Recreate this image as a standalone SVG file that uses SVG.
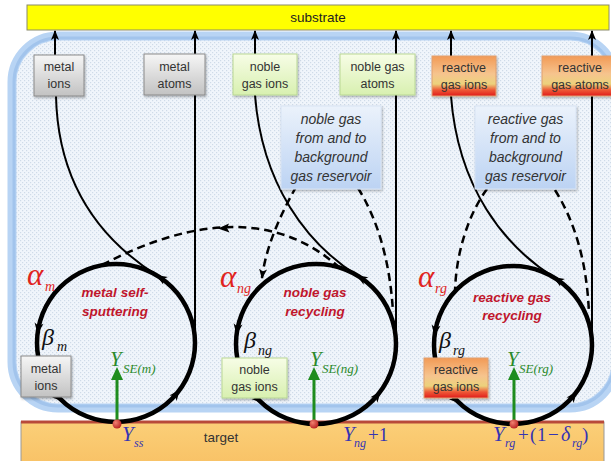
<svg xmlns="http://www.w3.org/2000/svg" width="611" height="461" viewBox="0 0 611 461">
<defs>
<style>
.box text{font-family:"Liberation Sans",Arial,sans-serif;font-size:12.5px;fill:#333;text-anchor:middle}
.res text{font-family:"Liberation Sans",Arial,sans-serif;font-size:14px;font-style:italic;fill:#333;text-anchor:middle}
.lbl{font-family:"Liberation Sans",Arial,sans-serif;font-size:13.5px;font-weight:bold;font-style:italic;fill:#c0162c;text-anchor:middle}
.gr{font-family:"Liberation Serif","Times New Roman",serif;font-style:italic}
.up{font-family:"Liberation Serif","Times New Roman",serif}
.line{fill:none;stroke:#000;stroke-width:2}
.loop{fill:none;stroke:#000;stroke-width:4.5}
.dash{fill:none;stroke:#000;stroke-width:2.5;stroke-dasharray:8 5}
.gbox{fill:url(#gGray);stroke:#8a8a8a;stroke-width:1}
.nbox{fill:url(#gGreen);stroke:#b9d794;stroke-width:1}
.obox{fill:url(#gOrange);stroke:#e0a070;stroke-width:1}
.bbox{fill:url(#gBlue);stroke:#d8e4f4;stroke-width:1}
</style>
<linearGradient id="gGray" x1="0" y1="0" x2="0" y2="1"><stop offset="0" stop-color="#f6f6f6"/><stop offset="1" stop-color="#c2c2c2"/></linearGradient>
<linearGradient id="gGreen" x1="0" y1="0" x2="0" y2="1"><stop offset="0" stop-color="#f7fde6"/><stop offset="1" stop-color="#d8f0b0"/></linearGradient>
<linearGradient id="gOrange" x1="0" y1="0" x2="0" y2="1"><stop offset="0" stop-color="#f29a56"/><stop offset="0.45" stop-color="#f6c48e"/><stop offset="0.7" stop-color="#ecd27c"/><stop offset="0.85" stop-color="#ee5836"/><stop offset="1" stop-color="#e01c1c"/></linearGradient>
<linearGradient id="gBlue" x1="0" y1="0" x2="0" y2="1"><stop offset="0" stop-color="#ebf2fb"/><stop offset="1" stop-color="#bcd3f3"/></linearGradient>
<linearGradient id="gTarget" x1="0" y1="0" x2="0" y2="1"><stop offset="0" stop-color="#fbcf78"/><stop offset="1" stop-color="#f8c266"/></linearGradient>
<radialGradient id="gDot" cx="0.35" cy="0.35" r="0.7"><stop offset="0" stop-color="#f08070"/><stop offset="1" stop-color="#b82020"/></radialGradient>
<pattern id="dots" width="4" height="4" patternUnits="userSpaceOnUse"><rect width="4" height="4" fill="#f0f5fb"/><rect x="0" y="0" width="1.2" height="1.2" fill="#cfdbe8"/><rect x="2" y="2" width="1.2" height="1.2" fill="#cfdbe8"/></pattern>
<marker id="arr" viewBox="0 0 10 10" refX="9" refY="5" markerWidth="10" markerHeight="10" markerUnits="userSpaceOnUse" orient="auto"><path d="M0,1 L10,5 L0,9 L2.5,5 Z" fill="#000"/></marker>
<path id="ah" d="M2,0 L-9,-4.5 L-6,0 L-9,4.5 Z" fill="#000"/>
<filter id="sh" x="-20%" y="-20%" width="150%" height="150%"><feDropShadow dx="1" dy="1.5" stdDeviation="1" flood-color="#000" flood-opacity="0.3"/></filter>
</defs>

<g id="background">
<rect x="12" y="36" width="604" height="372" rx="46" fill="url(#dots)" stroke="#b8d4f4" stroke-width="9"/>
<rect x="14" y="38" width="600" height="368" rx="44" fill="none" stroke="#a2c4ec" stroke-width="3"/>
</g>

<g id="substrate">
<rect x="27" y="5" width="582" height="25" fill="#ffff00" stroke="#8a8a6a" stroke-width="1"/>
<text x="318" y="22" font-family="Liberation Sans, Arial, sans-serif" font-size="13.5" fill="#222" text-anchor="middle">substrate</text>
</g>

<g id="target">
<rect x="21" y="422" width="583" height="42" fill="url(#gTarget)" stroke="#999" stroke-width="1"/>
<line x1="21" y1="422" x2="604" y2="422" stroke="#b84a3a" stroke-width="3"/>
<text x="221" y="442" font-family="Liberation Sans, Arial, sans-serif" font-size="13.5" fill="#333" text-anchor="middle">target</text>
</g>

<g id="connectors">
<line class="line" x1="55" y1="55" x2="55" y2="31" marker-end="url(#arr)"/>
<line class="line" x1="195" y1="343" x2="195" y2="31" marker-end="url(#arr)"/>
<line class="line" x1="255" y1="54" x2="255" y2="31" marker-end="url(#arr)"/>
<line class="line" x1="396" y1="344" x2="396" y2="31" marker-end="url(#arr)"/>
<line class="line" x1="451" y1="56" x2="451" y2="31" marker-end="url(#arr)"/>
<line class="line" x1="592" y1="345" x2="592" y2="31" marker-end="url(#arr)"/>
<path class="line" d="M56,96 C58,190 107,244 158,276"/>
<path class="line" d="M255,95 C262,185 307,244 358,276"/>
<path class="line" d="M451,96 C458,188 504,246 555,278"/>
<path class="dash" d="M340,268 Q250,187 100,266"/>
<path d="M218,228.5 L229,223.5 L227,228 L229.5,232.5 Z" fill="#000"/>
<path class="dash" d="M296,187 C282,212 266,245 262,278" marker-end="url(#arr)"/>
<path class="dash" d="M358,188 C378,220 390,262 393,312"/>
<path class="dash" d="M487,189 C470,212 456,250 455,292"/>
<path class="dash" d="M555,190 C575,222 587,262 589,314"/>
<circle class="loop" cx="116" cy="343" r="79"/>
<circle class="loop" cx="316" cy="344" r="80"/>
<circle class="loop" cx="513" cy="345" r="79"/>
<use href="#ah" transform="translate(37.8,332) rotate(98)"/>
<use href="#ah" transform="translate(61.6,400.3) rotate(43.5)"/>
<use href="#ah" transform="translate(178.6,391.2) rotate(-52.4)"/>
<use href="#ah" transform="translate(157.9,276) rotate(-148)"/>
<use href="#ah" transform="translate(236.8,332.9) rotate(98)"/>
<use href="#ah" transform="translate(261,402) rotate(43.5)"/>
<use href="#ah" transform="translate(379.4,392.8) rotate(-52.4)"/>
<use href="#ah" transform="translate(358.4,276.2) rotate(-148)"/>
<use href="#ah" transform="translate(434.8,334) rotate(98)"/>
<use href="#ah" transform="translate(458.6,402.3) rotate(43.5)"/>
<use href="#ah" transform="translate(575.6,393.2) rotate(-52.4)"/>
<use href="#ah" transform="translate(554.9,278) rotate(-148)"/>
<g stroke="#1e8c1e" stroke-width="3">
<line x1="117" y1="422" x2="117" y2="377"/>
<line x1="314" y1="422" x2="314" y2="377"/>
<line x1="514" y1="422" x2="514" y2="377"/>
</g>
<g fill="#1e8c1e">
<path d="M117,367 L111,380 L123,380 Z"/>
<path d="M314,367 L308,380 L320,380 Z"/>
<path d="M514,367 L508,380 L520,380 Z"/>
</g>
<g fill="url(#gDot)">
<circle cx="117" cy="424" r="4.5"/>
<circle cx="314" cy="424" r="4.5"/>
<circle cx="514" cy="424" r="4.5"/>
</g>
</g>

<g id="n-metal-ions-top" class="box"><rect class="gbox" x="34" y="55" width="50" height="41" filter="url(#sh)"/><text x="59" y="71">metal</text><text x="59" y="88">ions</text></g>
<g id="n-metal-atoms" class="box"><rect class="gbox" x="144" y="54" width="61" height="41" filter="url(#sh)"/><text x="174.5" y="71">metal</text><text x="174.5" y="88">atoms</text></g>
<g id="n-noble-ions-top" class="box"><rect class="nbox" x="233" y="54" width="64" height="41" filter="url(#sh)"/><text x="265" y="71">noble</text><text x="265" y="88">gas ions</text></g>
<g id="n-noble-atoms" class="box"><rect class="nbox" x="340" y="54" width="75" height="41" filter="url(#sh)"/><text x="377.5" y="71">noble gas</text><text x="377.5" y="88">atoms</text></g>
<g id="n-reactive-ions-top" class="box"><rect class="obox" x="432" y="56" width="64" height="40" filter="url(#sh)"/><text x="464" y="72">reactive</text><text x="464" y="89">gas ions</text></g>
<g id="n-reactive-atoms" class="box"><rect class="obox" x="542" y="56" width="76" height="40" filter="url(#sh)"/><text x="580" y="72">reactive</text><text x="580" y="89">gas atoms</text></g>

<g id="n-noble-reservoir" class="res"><rect class="bbox" x="281" y="106" width="100" height="83" filter="url(#sh)"/><text x="331" y="124">noble gas</text><text x="331" y="143">from and to</text><text x="331" y="162">background</text><text x="331" y="181">gas reservoir</text></g>
<g id="n-reactive-reservoir" class="res"><rect class="bbox" x="475" y="106" width="101" height="83" filter="url(#sh)"/><text x="525.5" y="124">reactive gas</text><text x="525.5" y="143">from and to</text><text x="525.5" y="162">background</text><text x="525.5" y="181">gas reservoir</text></g>

<g id="n-metal-ions-low" class="box"><rect class="gbox" x="21" y="356" width="50" height="41" filter="url(#sh)"/><text x="46" y="373">metal</text><text x="46" y="390">ions</text></g>
<g id="n-noble-ions-low" class="box"><rect class="nbox" x="222" y="358" width="65" height="40" filter="url(#sh)"/><text x="254.5" y="374">noble</text><text x="254.5" y="391">gas ions</text></g>
<g id="n-reactive-ions-low" class="box"><rect class="obox" x="424" y="358" width="64" height="40" filter="url(#sh)"/><text x="456" y="374">reactive</text><text x="456" y="391">gas ions</text></g>

<g id="loop-labels">
<text class="lbl" x="115" y="297">metal self-</text><text class="lbl" x="115" y="316">sputtering</text>
<text class="lbl" x="315" y="297">noble gas</text><text class="lbl" x="315" y="316">recycling</text>
<text class="lbl" x="512" y="302">reactive gas</text><text class="lbl" x="512" y="320">recycling</text>
</g>

<g id="coefficients">
<g fill="#e0241e"><text class="gr" x="27" y="285" font-size="31">α</text><text class="gr" x="45" y="291" font-size="14">m</text>
<text class="gr" x="220" y="287" font-size="31">α</text><text class="gr" x="237" y="293" font-size="14">ng</text>
<text class="gr" x="418" y="287" font-size="31">α</text><text class="gr" x="435" y="293" font-size="14">rg</text></g>
<g fill="#111"><text class="gr" x="42" y="345" font-size="24">β</text><text class="gr" x="57" y="351" font-size="14">m</text>
<text class="gr" x="244" y="348" font-size="24">β</text><text class="gr" x="258" y="355" font-size="14">ng</text>
<text class="gr" x="439" y="348" font-size="24">β</text><text class="gr" x="453" y="355" font-size="14">rg</text></g>
<g fill="#2a8a2a"><text class="gr" x="110" y="366" font-size="21">Y</text><text class="gr" x="123" y="373" font-size="13">SE(m)</text>
<text class="gr" x="310" y="366" font-size="21">Y</text><text class="gr" x="322" y="373" font-size="13">SE(ng)</text>
<text class="gr" x="507" y="366" font-size="21">Y</text><text class="gr" x="519" y="373" font-size="13">SE(rg)</text></g>
<g fill="#3434b4"><text class="gr" x="122" y="441" font-size="21">Y</text><text class="gr" x="134" y="447" font-size="12">ss</text>
<text class="gr" x="343" y="441" font-size="21">Y</text><text class="gr" x="354" y="447" font-size="12">ng</text><text class="up" x="368" y="441" font-size="19">+1</text>
<text class="gr" x="493" y="441" font-size="21">Y</text><text class="gr" x="505" y="447" font-size="12">rg</text>
<text class="up" y="441" font-size="19"><tspan x="518">+</tspan><tspan x="530">(</tspan><tspan x="537">1</tspan><tspan x="548">−</tspan></text>
<text class="gr" x="561" y="441" font-size="20">δ</text><text class="gr" x="572" y="447" font-size="12">rg</text><text class="up" x="582" y="441" font-size="19">)</text></g>
</g>
</svg>
